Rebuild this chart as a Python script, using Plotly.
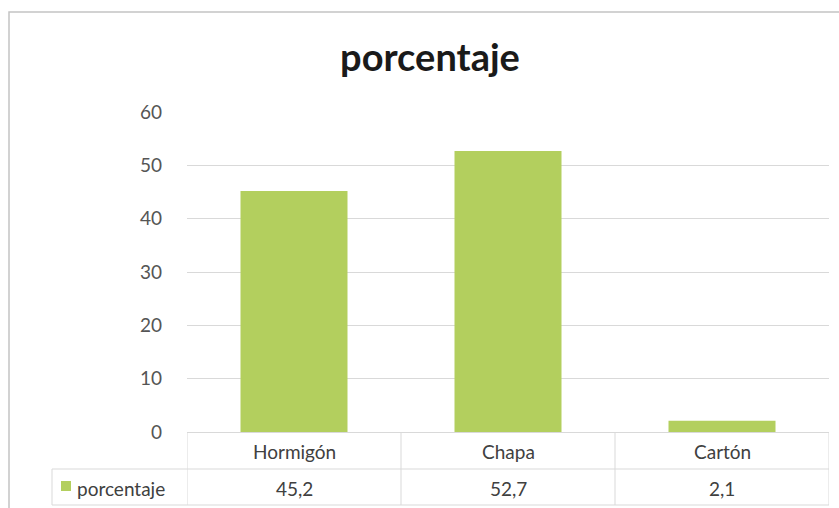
import plotly.graph_objects as go

categories = ["Hormigón", "Chapa", "Cartón"]
values = [45.2, 52.7, 2.1]
value_labels = ["45,2", "52,7", "2,1"]
series_name = "porcentaje"
title_text = "porcentaje"
y_ticks = [0, 10, 20, 30, 40, 50, 60]

W, H = 839, 508
L, R, T, B = 187, 10, 112, 76
pw, ph = W - L - R, H - T - B

def px_x(px):
    return (px - L) / pw

def px_y(py):
    return (H - B - py) / ph

FONT = "Lato, 'Open Sans', sans-serif"
TXT = "#404040"
GRID = "#d9d9d9"
BAR = "#b3cf5e"

fig = go.Figure()
fig.add_trace(go.Bar(x=list(range(len(categories))), y=values, name=series_name,
                     marker=dict(color=BAR, line=dict(width=0)), hoverinfo="skip"))

shapes = []
# outer chart border
shapes.append(dict(type="rect", xref="paper", yref="paper", x0=px_x(9), x1=px_x(845),
                   y0=px_y(515), y1=px_y(12), line=dict(color="#c4c4c4", width=1.5)))
# table horizontal lines
for py in [469, 505]:
    shapes.append(dict(type="line", xref="paper", yref="paper", x0=px_x(52), x1=px_x(829),
                       y0=px_y(py), y1=px_y(py), line=dict(color=GRID, width=1)))
# table vertical lines
n = len(categories)
for i in range(n + 1):
    shapes.append(dict(type="line", xref="x", yref="paper", x0=i - 0.5, x1=i - 0.5,
                       y0=px_y(432), y1=px_y(505), line=dict(color=GRID, width=1)))
shapes.append(dict(type="line", xref="paper", yref="paper", x0=px_x(52), x1=px_x(52),
                   y0=px_y(469), y1=px_y(505), line=dict(color=GRID, width=1)))
# legend key
shapes.append(dict(type="rect", xref="paper", yref="paper", x0=px_x(61), x1=px_x(71),
                   y0=px_y(491), y1=px_y(481), fillcolor=BAR, line=dict(width=0)))

annotations = []
for i, (c, v) in enumerate(zip(categories, value_labels)):
    annotations.append(dict(x=i, xref="x", y=px_y(451), yref="paper", text=c, showarrow=False,
                            font=dict(family=FONT, size=19, color=TXT), xanchor="center", yanchor="middle"))
    annotations.append(dict(x=i, xref="x", y=px_y(488), yref="paper", text=v, showarrow=False,
                            font=dict(family=FONT, size=19, color=TXT), xanchor="center", yanchor="middle"))
annotations.append(dict(x=px_x(75), xref="paper", y=px_y(488), yref="paper", text=series_name,
                        showarrow=False, font=dict(family=FONT, size=19, color=TXT),
                        xanchor="left", yanchor="middle"))

fig.update_layout(
    width=W, height=H,
    margin=dict(l=L, r=R, t=T, b=B),
    paper_bgcolor="white", plot_bgcolor="white",
    title=dict(text="<b>" + title_text + "</b>", xref="container", x=430 / W, xanchor="center",
               y=1 - 58 / H, yanchor="middle", font=dict(family=FONT, size=38, color="#1a1a1a")),
    showlegend=False,
    bargap=0.5,
    xaxis=dict(range=[-0.5, n - 0.5], showticklabels=False, showgrid=False, zeroline=False,
               showline=True, linecolor=GRID, linewidth=1, ticks=""),
    yaxis=dict(range=[0, 60], tickvals=y_ticks, showgrid=True, gridcolor=GRID, gridwidth=1,
               zeroline=False, showline=False, ticks="", ticklabelstandoff=24,
               tickfont=dict(family=FONT, size=19, color="#555555")),
    shapes=shapes,
    annotations=annotations,
)
fig.write_html("out.html", config={"displayModeBar": False},
               post_script="document.body.style.margin='0';document.body.style.overflow='hidden';")
